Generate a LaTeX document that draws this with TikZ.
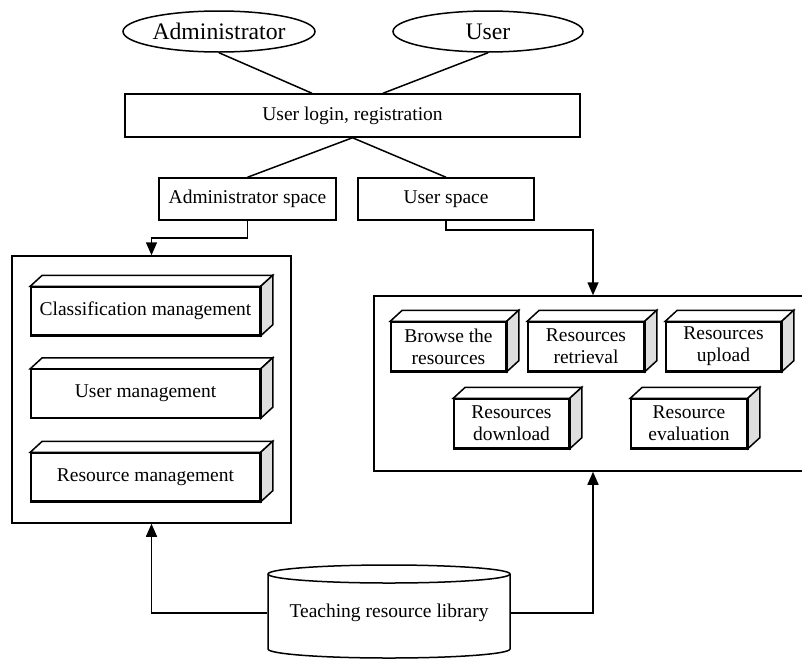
\documentclass[tikz,border=0pt]{standalone}
\usepackage{fontspec}
\setmainfont{Liberation Serif}
\usetikzlibrary{shapes.geometric,arrows.meta,calc}
\newcommand{\cubefaces}[1]{%
  \filldraw[fill=white] (#1.north west) -- ++(12,-11) -- ($(#1.north east)+(12,-11)$) -- (#1.north east) -- cycle;
  \filldraw[fill=black!13] (#1.north east) -- ++(12,-11) -- ($(#1.south east)+(12,-11)$) -- (#1.south east) -- cycle;
  \draw (#1.north west) rectangle (#1.south east);}
\begin{document}
\begin{tikzpicture}[x=1pt,y=-1pt, line width=1.5pt,
  txt/.style={font=\fontsize{19.5}{22}\selectfont, align=center},
  oval/.style={ellipse, draw, inner sep=0pt, font=\fontsize{23.7}{26}\selectfont},
  plainbox/.style={draw, txt, inner sep=0pt},
  cube/.style={draw, fill=white, txt, inner sep=0pt},
  arr/.style={-{Triangle[length=13pt,width=11pt]}},
  frame/.style={draw, inner sep=0pt}]
\useasboundingbox (0,0) rectangle (802,659);
% top
\node[oval, minimum width=192pt, minimum height=41pt] (ad) at (219,31.5) {Administrator};
\node[oval, minimum width=190pt, minimum height=41pt] (us) at (488,31.5) {User};
\node[plainbox, minimum width=455pt, minimum height=43pt] (login) at (352.5,115.5) {User login, registration};
\node[plainbox, minimum width=177pt, minimum height=42pt] (as) at (247.5,199) {Administrator space};
\node[plainbox, minimum width=176pt, minimum height=42pt] (usp) at (446,199) {User space};
% containers
\node[frame, minimum width=279pt, minimum height=267pt] (lc) at (151.5,389.5) {};
\node[frame, minimum width=438pt, minimum height=175pt] (rc) at (593,383.5) {};
% left cubes
\node[cube, minimum width=229pt, minimum height=48pt] (c1) at (145.5,311) {Classification management};
\cubefaces{c1}
\node[cube, minimum width=229pt, minimum height=48pt] (c2) at (145.5,393.5) {User management};
\cubefaces{c2}
\node[cube, minimum width=229pt, minimum height=48pt] (c3) at (145.5,477) {Resource management};
\cubefaces{c3}
% right cubes
\node[cube, minimum width=115pt, minimum height=49pt] (r1) at (448.5,346.5) {Browse the\\resources};
\cubefaces{r1}
\node[cube, minimum width=116pt, minimum height=49pt] (r2) at (586,346.5) {Resources\\retrieval};
\cubefaces{r2}
\node[cube, minimum width=115pt, minimum height=49pt] (r3) at (723.5,346.5) {Resources\\upload};
\cubefaces{r3}
\node[cube, minimum width=115pt, minimum height=49pt] (r4) at (511.5,423.5) {Resources\\download};
\cubefaces{r4}
\node[cube, minimum width=116pt, minimum height=49pt] (r5) at (689,423.5) {Resource\\evaluation};
\cubefaces{r5}
% library cylinder
\node[txt, minimum width=242pt, minimum height=90pt, inner sep=0pt] (lib) at (389,613) {Teaching resource library};
\draw (268,574) -- (268,649) arc[start angle=180,end angle=0,x radius=121,y radius=9]
      -- (510,574) arc[start angle=0,end angle=-180,x radius=121,y radius=9] -- cycle;
\draw (268,574) arc[start angle=180,end angle=0,x radius=121,y radius=9];
% connectors
\draw (ad.south) -- ([xshift=-40.5pt]login.north);
\draw (us.south) -- ([xshift=30.5pt]login.north);
\draw (login.south) -- (as.north);
\draw (login.south) -- (usp.north);
\draw[arr] (as.south) -- ++(0,17) -| (lc.north);
\draw[arr] (usp.south) -- ++(0,9) -| (rc.north);
\draw[arr] (lib.west) -| (lc.south);
\draw[arr] (lib.east) -| (rc.south);
\end{tikzpicture}
\end{document}
